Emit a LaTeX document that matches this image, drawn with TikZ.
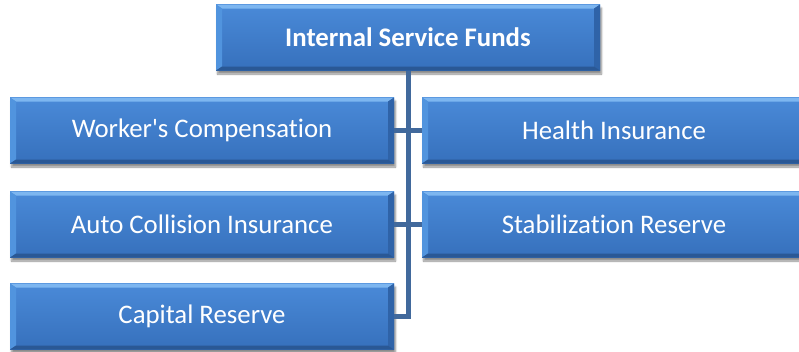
\documentclass[tikz,border=0pt]{standalone}
\usepackage{fontspec}
\setmainfont{Carlito}[Ligatures=NoCommon]
\usetikzlibrary{shadows.blur}
\definecolor{facetop}{HTML}{4A8AD8}
\definecolor{facebot}{HTML}{3670BC}
\definecolor{bevtop}{HTML}{7DB6F0}
\definecolor{bevleft}{HTML}{5194DE}
\definecolor{bevright}{HTML}{2F63A8}
\definecolor{bevbot}{HTML}{2A5895}
\definecolor{linkblue}{HTML}{41699C}
\tikzset{
    fundbox/.style={
        minimum width=384pt, minimum height=66pt, inner sep=0pt,
        top color=facetop, bottom color=facebot, draw=none,
        text=white, font=\fontsize{26.8}{30}\selectfont,
        blur shadow={shadow xshift=1.5pt, shadow yshift=-3.5pt, shadow blur steps=6, shadow opacity=45},
        path picture={
            \coordinate (pnw) at (path picture bounding box.north west);
            \coordinate (pne) at (path picture bounding box.north east);
            \coordinate (psw) at (path picture bounding box.south west);
            \coordinate (pse) at (path picture bounding box.south east);
            \fill[bevtop] (pnw) -- (pne) -- ([shift={(-6pt,-4pt)}]pne) -- ([shift={(6pt,-4pt)}]pnw) -- cycle;
            \fill[bevleft] (pnw) -- ([shift={(6pt,-4pt)}]pnw) -- ([shift={(6pt,4pt)}]psw) -- (psw) -- cycle;
            \fill[bevright] (pne) -- ([shift={(-6pt,-4pt)}]pne) -- ([shift={(-6pt,4pt)}]pse) -- (pse) -- cycle;
            \fill[bevbot] (psw) -- ([shift={(6pt,4pt)}]psw) -- ([shift={(-6pt,4pt)}]pse) -- (pse) -- cycle;
        }
    },
    link/.style={draw=linkblue, line width=5pt},
}
\begin{document}
\begin{tikzpicture}[x=1pt,y=1pt]
\clip (0,0) rectangle (799,-351);
% boxes
\node[fundbox, font=\fontsize{26.8}{30}\selectfont\bfseries] (isf) at (408,-37.5) {Internal Service Funds};
\node[fundbox] (wc) at (202,-130.5) {Worker\textquotesingle s Compensation};
\node[fundbox] (hi) at (614,-130.5) {Health Insurance};
\node[fundbox] (ac) at (202,-224.5) {Auto Collision Insurance};
\node[fundbox] (sr) at (614,-224.5) {Stabilization Reserve};
\node[fundbox] (cr) at (202,-316.5) {Capital Reserve};
% connectors
\draw[link] (isf.south) -- (isf.south |- cr.east) -- (cr.east);
\draw[link] (wc.east) -- (hi.west);
\draw[link] (ac.east) -- (sr.west);
\end{tikzpicture}
\end{document}
